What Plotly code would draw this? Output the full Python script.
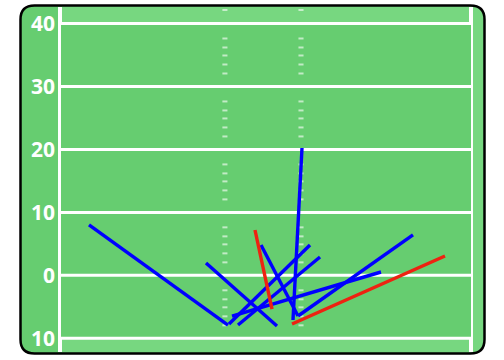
import plotly.graph_objects as go

# ---- data (field coordinates: x = yards from field centre, y = yards from line of scrimmage)
x_start = [-4.94, 1.43, 0.78, 4.16, 3.51, 4.16, -4.81, -3.64, -4.42, 3.38]
y_start = [-7.89, -8.05, -5.35, -6.46, -7.09, -6.46, -7.73, -7.89, -6.46, -7.73]
x_end = [-23.01, -7.80, -1.43, -0.65, 4.68, 19.11, 5.72, 7.02, 14.95, 23.27]
y_end = [8.00, 1.96, 7.20, 4.82, 20.23, 6.41, 4.82, 2.91, 0.53, 3.07]
outcome = ["complete", "complete", "incomplete", "complete", "complete",
           "complete", "complete", "complete", "complete", "incomplete"]

yard_lines = [40, 30, 20, 10, 0, -10]
yard_text = ["40", "30", "20", "10", "0", "10"]

# ---- styling constants
W, H = 504, 360
ML, MR = 61, 33
PLOT_W = W - ML - MR
X_RANGE = [-26.65, 26.65]
Y_RANGE = [-13.447, 43.733]
GREEN = "rgb(102,205,112)"
LIGHT = "rgb(119,215,128)"
COLORS = {"complete": "#0000FF", "incomplete": "#EE2211"}


def px(x, y):
    return f"{(x - ML) / PLOT_W:.5f},{1 - y / H:.5f}"


def rounded(x0, y0, x1, y1, r, corners=(True, True, True, True)):
    tl, tr, br, bl = corners
    p = []
    p.append("M" + (px(x0 + r, y0) if tl else px(x0, y0)))
    if tr:
        p.append("L" + px(x1 - r, y0))
        p.append("Q" + px(x1, y0) + " " + px(x1, y0 + r))
    else:
        p.append("L" + px(x1, y0))
    if br:
        p.append("L" + px(x1, y1 - r))
        p.append("Q" + px(x1, y1) + " " + px(x1 - r, y1))
    else:
        p.append("L" + px(x1, y1))
    if bl:
        p.append("L" + px(x0 + r, y1))
        p.append("Q" + px(x0, y1) + " " + px(x0, y1 - r))
    else:
        p.append("L" + px(x0, y1))
    if tl:
        p.append("L" + px(x0, y0 + r))
        p.append("Q" + px(x0, y0) + " " + px(x0 + r, y0))
    p.append("Z")
    return " ".join(p)


shapes = []
BX0, BY0, BX1, BY1, R = 20.5, 5.5, 484.5, 353.5, 14
# light outer area
shapes.append(dict(type="path", xref="paper", yref="paper", layer="below",
                   path=rounded(BX0, BY0, BX1, BY1, R), fillcolor=LIGHT, line=dict(width=0)))
# left label column (main green)
shapes.append(dict(type="path", xref="paper", yref="paper", layer="below",
                   path=rounded(BX0, BY0, 62, BY1, R, (True, False, False, True)),
                   fillcolor=GREEN, line=dict(width=0)))
# field between outermost yard lines
shapes.append(dict(type="rect", xref="x", yref="y", layer="below",
                   x0=X_RANGE[0], x1=X_RANGE[1], y0=-10, y1=40,
                   fillcolor=GREEN, line=dict(width=0)))

# hash marks
hash_x = [-5.34, 4.55]
hash_offsets = [2.38, 3.81, 5.08, 6.51, 7.94]
hash_ys = [42.15]
for top in [40, 30, 20, 10, 0]:
    for o in hash_offsets:
        hash_ys.append(top - o)
for hx in hash_x:
    for hy in hash_ys:
        shapes.append(dict(type="line", xref="x", yref="y", layer="below",
                           x0=hx - 0.33, x1=hx + 0.33, y0=hy, y1=hy,
                           line=dict(color="rgba(255,255,255,0.6)", width=2)))

# yard lines
for yl in yard_lines:
    shapes.append(dict(type="line", xref="x", yref="y", layer="below",
                       x0=X_RANGE[0], x1=X_RANGE[1], y0=yl, y1=yl,
                       line=dict(color="white", width=3)))
# sidelines
for sx in (-1 / PLOT_W, 1):
    shapes.append(dict(type="line", xref="paper", yref="paper", layer="below",
                       x0=sx, x1=sx, y0=1 - 7 / H, y1=1 - 352 / H,
                       line=dict(color="white", width=4)))
# outline
shapes.append(dict(type="path", xref="paper", yref="paper", layer="above",
                   path=rounded(BX0, BY0, BX1, BY1, R), fillcolor="rgba(0,0,0,0)",
                   line=dict(color="black", width=2.5)))

fig = go.Figure()
for res in ["complete", "incomplete"]:
    xs, ys = [], []
    for i in range(len(outcome)):
        if outcome[i] == res:
            xs += [x_start[i], x_end[i], None]
            ys += [y_start[i], y_end[i], None]
    fig.add_trace(go.Scatter(x=xs, y=ys, mode="lines", name=res,
                             line=dict(color=COLORS[res], width=3.4),
                             hoverinfo="skip", showlegend=False))

fig.update_layout(
    width=W, height=H,
    margin=dict(l=ML, r=MR, t=0, b=0),
    paper_bgcolor="white",
    plot_bgcolor="rgba(0,0,0,0)",
    shapes=shapes,
    showlegend=False,
    xaxis=dict(range=X_RANGE, visible=False, fixedrange=True),
    yaxis=dict(range=Y_RANGE, tickvals=yard_lines, ticktext=yard_text,
               showgrid=False, zeroline=False, showline=False, ticks="",
               ticklabelstandoff=5,
               tickfont=dict(family="Open Sans", size=21, color="white", weight="bold"),
               fixedrange=True),
)

fig.write_html("out.html", config={"displayModeBar": False})
